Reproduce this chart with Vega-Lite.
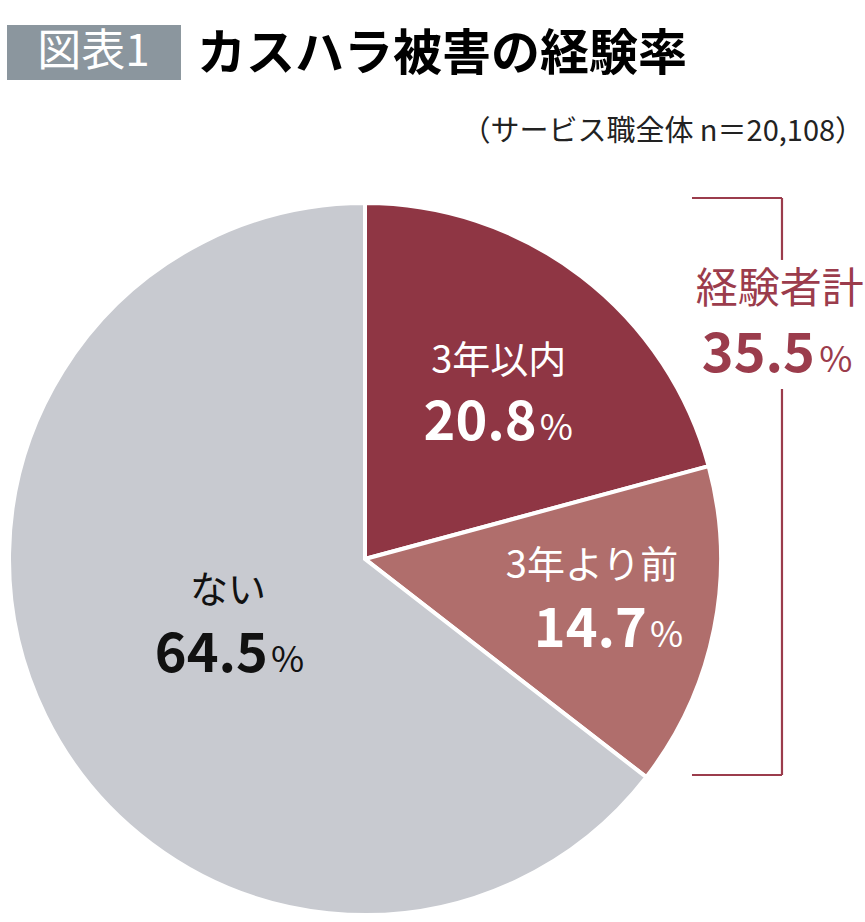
{
  "$schema": "https://vega.github.io/schema/vega-lite/v6.json",
  "autosize": "none",
  "width": 712,
  "height": 712,
  "padding": {"left": 9, "top": 203, "right": 144, "bottom": 7},
  "background": "white",
  "data": {
    "values": [
      {"category": "3年以内", "value": 20.8, "order": 1},
      {"category": "3年より前", "value": 14.7, "order": 2},
      {"category": "ない", "value": 64.5, "order": 3}
    ]
  },
  "layer": [
    {
      "mark": {"type": "arc", "stroke": "white", "strokeWidth": 4},
      "encoding": {
        "theta": {"field": "value", "type": "quantitative", "stack": true},
        "order": {"field": "order", "type": "quantitative"},
        "color": {
          "field": "category",
          "type": "nominal",
          "scale": {
            "domain": ["3年以内", "3年より前", "ない"],
            "range": ["#8f3644", "#b06e6c", "#c8cad0"]
          },
          "legend": null
        }
      }
    },
    {
      "mark": {
        "type": "text",
        "font": "Noto Sans CJK JP",
        "fontSize": 38,
        "baseline": "middle",
        "align": "center",
        "radius": {"expr": "datum.category === 'ない' ? 152.6 : datum.category === '3年以内' ? 220 : 231.5"},
        "dy": {"expr": "datum.category === 'ない' ? -34 : datum.category === '3年以内' ? -22 : -37.5"},
        "fill": {"expr": "datum.category === 'ない' ? '#111111' : '#ffffff'"}
      },
      "encoding": {
        "theta": {"field": "value", "type": "quantitative", "stack": true},
        "order": {"field": "order", "type": "quantitative"},
        "detail": {"field": "category", "type": "nominal"},
        "text": {"field": "category", "type": "nominal"}
      }
    },
    {
      "mark": {
        "type": "text",
        "font": "Noto Sans CJK JP",
        "fontSize": 54,
        "fontWeight": "bold",
        "baseline": "alphabetic",
        "align": "right",
        "radius": {"expr": "datum.category === 'ない' ? 152.6 : datum.category === '3年以内' ? 220 : 231.5"},
        "dx": {"expr": "datum.category === 'ない' ? 40 : datum.category === '3年以内' ? 38 : 55"},
        "dy": {"expr": "datum.category === 'ない' ? 46 : datum.category === '3年以内' ? 56 : 42.5"},
        "fill": {"expr": "datum.category === 'ない' ? '#111111' : '#ffffff'"}
      },
      "encoding": {
        "theta": {"field": "value", "type": "quantitative", "stack": true},
        "order": {"field": "order", "type": "quantitative"},
        "detail": {"field": "category", "type": "nominal"},
        "text": {"field": "value", "type": "quantitative", "format": ".1f"}
      }
    },
    {
      "mark": {
        "type": "text",
        "font": "Noto Sans CJK JP",
        "fontSize": 36,
        "baseline": "alphabetic",
        "align": "left",
        "text": "%",
        "radius": {"expr": "datum.category === 'ない' ? 152.6 : datum.category === '3年以内' ? 220 : 231.5"},
        "dx": {"expr": "datum.category === 'ない' ? 43 : datum.category === '3年以内' ? 41 : 58"},
        "dy": {"expr": "datum.category === 'ない' ? 46 : datum.category === '3年以内' ? 56 : 42.5"},
        "fill": {"expr": "datum.category === 'ない' ? '#111111' : '#ffffff'"}
      },
      "encoding": {
        "theta": {"field": "value", "type": "quantitative", "stack": true},
        "order": {"field": "order", "type": "quantitative"},
        "detail": {"field": "category", "type": "nominal"}
      }
    },
    {
      "data": {"values": [{"label": "経験者計", "value": 35.5}]},
      "layer": [
        {
          "mark": {"type": "rule", "color": "#9b3c4c", "strokeWidth": 2.2},
          "encoding": {
            "x": {"datum": 0.9185, "type": "quantitative", "scale": {"domain": [-1, 1], "nice": false, "zero": false}, "axis": null},
            "x2": {"datum": 1.1713},
            "y": {"datum": 1.014, "type": "quantitative", "scale": {"domain": [-1, 1], "nice": false, "zero": false}, "axis": null}
          }
        },
        {
          "mark": {"type": "rule", "color": "#9b3c4c", "strokeWidth": 2.2},
          "encoding": {
            "x": {"datum": 0.9185, "type": "quantitative", "scale": {"domain": [-1, 1], "nice": false, "zero": false}, "axis": null},
            "x2": {"datum": 1.1713},
            "y": {"datum": -0.6067, "type": "quantitative", "scale": {"domain": [-1, 1], "nice": false, "zero": false}, "axis": null}
          }
        },
        {
          "mark": {"type": "rule", "color": "#9b3c4c", "strokeWidth": 2.2},
          "encoding": {
            "x": {"datum": 1.1713, "type": "quantitative", "scale": {"domain": [-1, 1], "nice": false, "zero": false}, "axis": null},
            "y": {"datum": 1.014, "type": "quantitative", "scale": {"domain": [-1, 1], "nice": false, "zero": false}, "axis": null},
            "y2": {"datum": 0.84}
          }
        },
        {
          "mark": {"type": "rule", "color": "#9b3c4c", "strokeWidth": 2.2},
          "encoding": {
            "x": {"datum": 1.1713, "type": "quantitative", "scale": {"domain": [-1, 1], "nice": false, "zero": false}, "axis": null},
            "y": {"datum": 0.4775, "type": "quantitative", "scale": {"domain": [-1, 1], "nice": false, "zero": false}, "axis": null},
            "y2": {"datum": -0.6067}
          }
        },
        {
          "mark": {"type": "text", "font": "Noto Sans CJK JP", "fontSize": 42, "color": "#9b3c4c", "align": "center", "baseline": "middle"},
          "encoding": {
            "x": {"datum": 1.165, "type": "quantitative", "scale": {"domain": [-1, 1], "nice": false, "zero": false}, "axis": null},
            "y": {"datum": 0.756, "type": "quantitative", "scale": {"domain": [-1, 1], "nice": false, "zero": false}, "axis": null},
            "text": {"field": "label", "type": "nominal"}
          }
        },
        {
          "mark": {"type": "text", "font": "Noto Sans CJK JP", "fontSize": 54, "fontWeight": "bold", "color": "#9b3c4c", "align": "right", "baseline": "alphabetic"},
          "encoding": {
            "x": {"datum": 1.264, "type": "quantitative", "scale": {"domain": [-1, 1], "nice": false, "zero": false}, "axis": null},
            "y": {"datum": 0.526, "type": "quantitative", "scale": {"domain": [-1, 1], "nice": false, "zero": false}, "axis": null},
            "text": {"field": "value", "type": "quantitative", "format": ".1f"}
          }
        },
        {
          "mark": {"type": "text", "font": "Noto Sans CJK JP", "fontSize": 36, "color": "#9b3c4c", "align": "left", "baseline": "alphabetic", "text": "%"},
          "encoding": {
            "x": {"datum": 1.276, "type": "quantitative", "scale": {"domain": [-1, 1], "nice": false, "zero": false}, "axis": null},
            "y": {"datum": 0.526, "type": "quantitative", "scale": {"domain": [-1, 1], "nice": false, "zero": false}, "axis": null}
          }
        }
      ]
    },
    {
      "data": {"values": [{"tag": "図表1", "title": "カスハラ被害の経験率", "note": "（サービス職全体 n＝20,108）"}]},
      "layer": [
        {
          "mark": {"type": "rect", "color": "#8b969e"},
          "encoding": {
            "x": {"datum": -1.0056, "type": "quantitative", "scale": {"domain": [-1, 1], "nice": false, "zero": false}, "axis": null},
            "x2": {"datum": -0.5169},
            "y": {"datum": 1.5, "type": "quantitative", "scale": {"domain": [-1, 1], "nice": false, "zero": false}, "axis": null},
            "y2": {"datum": 1.3455}
          }
        },
        {
          "mark": {"type": "text", "font": "Noto Sans CJK JP", "fontSize": 44, "color": "white", "align": "center", "baseline": "middle"},
          "encoding": {
            "x": {"datum": -0.7626, "type": "quantitative", "scale": {"domain": [-1, 1], "nice": false, "zero": false}, "axis": null},
            "y": {"datum": 1.4213, "type": "quantitative", "scale": {"domain": [-1, 1], "nice": false, "zero": false}, "axis": null},
            "text": {"field": "tag", "type": "nominal"}
          }
        },
        {
          "mark": {"type": "text", "font": "Noto Sans CJK JP", "fontSize": 49, "fontWeight": "bold", "color": "black", "align": "left", "baseline": "middle"},
          "encoding": {
            "x": {"datum": -0.4719, "type": "quantitative", "scale": {"domain": [-1, 1], "nice": false, "zero": false}, "axis": null},
            "y": {"datum": 1.4157, "type": "quantitative", "scale": {"domain": [-1, 1], "nice": false, "zero": false}, "axis": null},
            "text": {"field": "title", "type": "nominal"}
          }
        },
        {
          "mark": {"type": "text", "font": "Noto Sans CJK JP", "fontSize": 29, "color": "#222222", "align": "right", "baseline": "middle"},
          "encoding": {
            "x": {"datum": 1.402, "type": "quantitative", "scale": {"domain": [-1, 1], "nice": false, "zero": false}, "axis": null},
            "y": {"datum": 1.1994, "type": "quantitative", "scale": {"domain": [-1, 1], "nice": false, "zero": false}, "axis": null},
            "text": {"field": "note", "type": "nominal"}
          }
        }
      ]
    }
  ],
  "config": {
    "view": {"stroke": null}
  }
}
